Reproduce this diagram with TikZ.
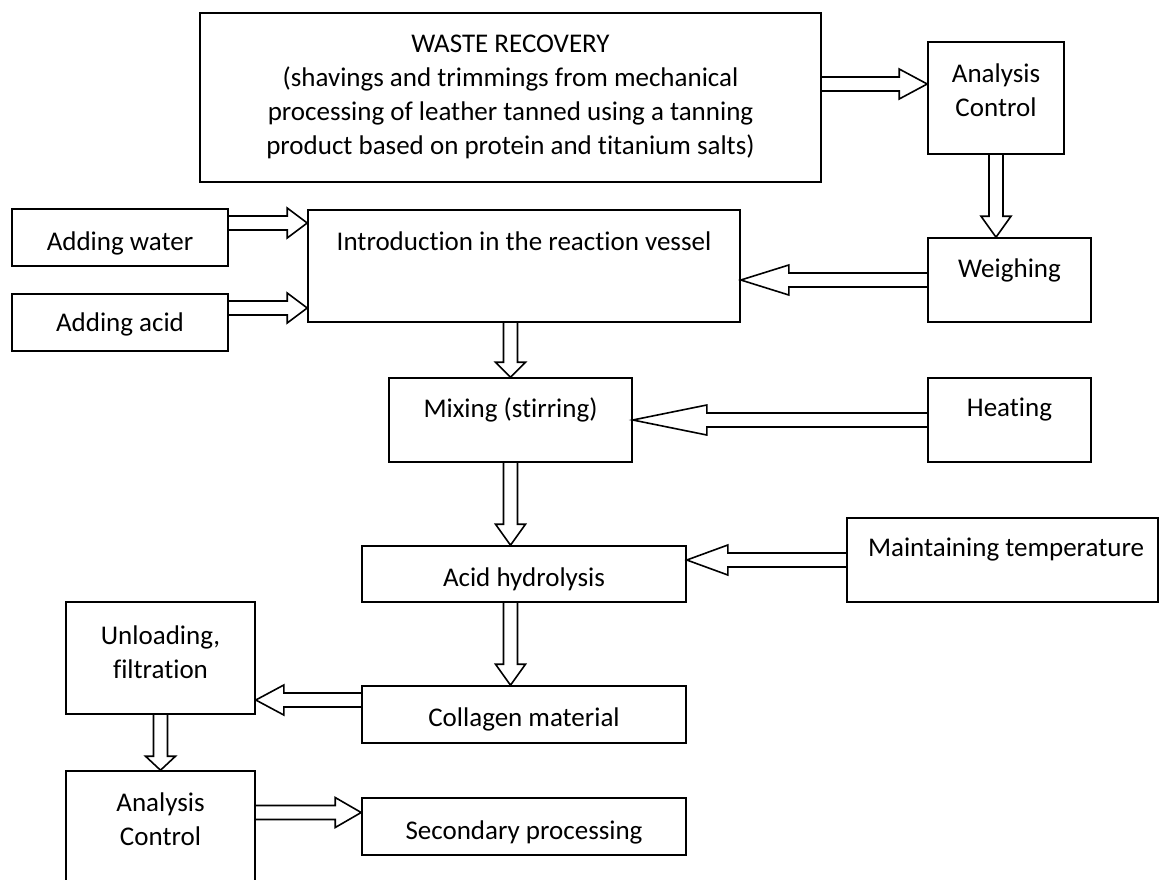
\documentclass[tikz,border=0pt]{standalone}
\usepackage{fontspec}
\setmainfont[Ligatures=NoCommon]{Carlito}
\usetikzlibrary{calc,positioning,math}

\tikzset{
  blk/.style={draw, line width=1.6pt, inner sep=0pt},
  txt/.style={align=center, inner sep=0pt, font=\fontsize{27}{34}\selectfont},
}

% hollow block arrow: start, end, head length
\newcommand{\fatarrow}[3]{%
  \draw[line width=1.6pt] let \p1=(#1), \p2=(#2),
    \n1={atan2(\y2-\y1,\x2-\x1)}, \n2={veclen(\x2-\x1,\y2-\y1)} in
    [shift={(\p1)}, rotate=\n1]
    (0,\sw) -- (\n2-#3,\sw) -- (\n2-#3,\hw) -- (\n2,0)
    -- (\n2-#3,-\hw) -- (\n2-#3,-\sw) -- (0,-\sw);
}

\begin{document}
\begin{tikzpicture}[x=1pt, y=-1pt]
\tikzmath{
\sw=7;
\hw=15;
}
\useasboundingbox (0,0) rectangle (1159,879);

% boxes
\node[blk, minimum width=621pt, minimum height=169pt] (waste) at (510.5,97.5) {};
\node[blk, minimum width=136pt, minimum height=112pt] (ctrlA) at (996,98) {};
\node[blk, minimum width=163pt, minimum height=84pt] (weigh) at (1009.5,280) {};
\node[blk, minimum width=432pt, minimum height=112pt] (intro) at (524,266) {};
\node[blk, minimum width=216pt, minimum height=57pt] (water) at (120,237.5) {};
\node[blk, minimum width=216pt, minimum height=57pt] (acid) at (120,322.5) {};
\node[blk, minimum width=243pt, minimum height=84pt] (mix) at (510.5,420) {};
\node[blk, minimum width=163pt, minimum height=84pt] (heat) at (1009.5,420) {};
\node[blk, minimum width=324pt, minimum height=56pt] (hydro) at (524,574) {};
\node[blk, minimum width=311pt, minimum height=84pt] (temp) at (1002.5,560) {};
\node[blk, minimum width=189pt, minimum height=112pt] (unload) at (160.5,658) {};
\node[blk, minimum width=324pt, minimum height=57pt] (collagen) at (524,714.5) {};
\node[blk, minimum width=189pt, minimum height=112pt] (ctrlB) at (160.5,827) {};
\node[blk, minimum width=324pt, minimum height=57pt] (second) at (524,826.5) {};

% texts
\node[txt] (wastetxt) at (510.5,97) {WASTE RECOVERY\\(shavings and trimmings from mechanical\\processing of leather tanned using a tanning\\product based on protein and titanium salts)};
\node[txt] (ctrlAtxt) at (996,90) {Analysis\\Control};
\node[txt] (weightxt) at (1009.5,270) {Weighing};
\node[txt] (introtxt) at (524,241) {Introduction in the reaction vessel};
\node[txt] (watertxt) at (120,243) {Adding water};
\node[txt] (acidtxt) at (120,324) {Adding acid};
\node[txt] (mixtxt) at (510.5,410) {Mixing (stirring)};
\node[txt] (heattxt) at (1009.5,410) {Heating};
\node[txt] (hydrotxt) at (524,579) {Acid hydrolysis};
\node[txt] (temptxt) at (1006,550) {Maintaining temperature};
\node[txt] (unloadtxt) at (160.5,652) {Unloading,\\filtration};
\node[txt] (collagentxt) at (524,719) {Collagen material};
\node[txt] (ctrlBtxt) at (160.5,819) {Analysis\\Control};
\node[txt] (secondtxt) at (524,832) {Secondary processing};

% arrow tails off centre
\coordinate (wasteout) at ([yshift=13.5pt]waste.east);
\coordinate (waterout) at ([yshift=14.5pt]water.east);
\coordinate (acidout) at ([yshift=14.5pt]acid.east);
\coordinate (collagenout) at ([yshift=14.5pt]collagen.west);
\coordinate (ctrlBout) at ([yshift=14.5pt]ctrlB.east);

% arrows
\fatarrow{wasteout}{wasteout -| ctrlA.west}{28}
\fatarrow{ctrlA.south}{ctrlA.south |- weigh.north}{21}
\fatarrow{weigh.west}{weigh.west -| intro.east}{48}
\fatarrow{waterout}{waterout -| intro.west}{20}
\fatarrow{acidout}{acidout -| intro.west}{20}
\fatarrow{intro.south -| mix.north}{mix.north}{15}
\fatarrow{heat.west}{heat.west -| mix.east}{74}
\fatarrow{mix.south}{mix.south |- hydro.north}{21}
\fatarrow{temp.west}{temp.west -| hydro.east}{41}
\fatarrow{hydro.south -| mix.south}{collagen.north -| mix.south}{21}
\fatarrow{collagenout}{collagenout -| unload.east}{28}
\fatarrow{unload.south}{unload.south |- ctrlB.north}{14}
\fatarrow{ctrlBout}{ctrlBout -| second.west}{26}

\end{tikzpicture}
\end{document}
